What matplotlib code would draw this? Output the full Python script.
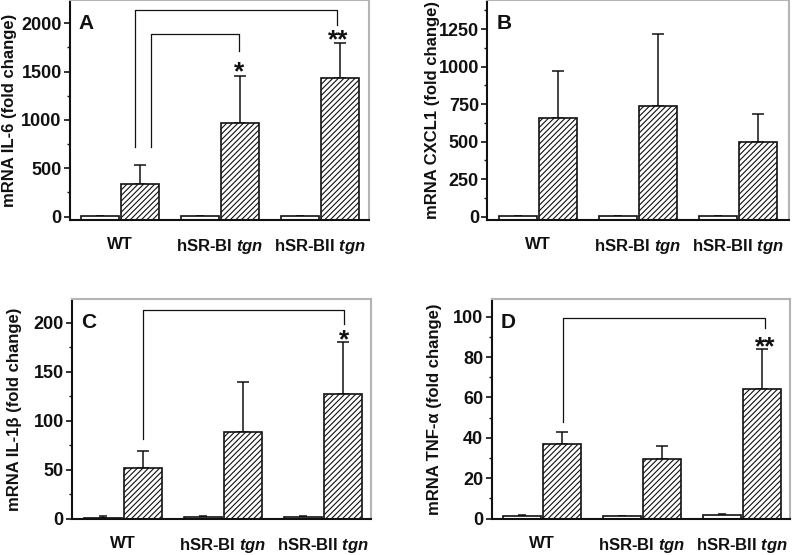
import numpy as np
import matplotlib
matplotlib.use("Agg")
import matplotlib.pyplot as plt
from matplotlib.ticker import MultipleLocator

plt.rcParams['font.family'] = ['Liberation Sans', 'DejaVu Sans']
plt.rcParams['font.weight'] = 'bold'
plt.rcParams['hatch.linewidth'] = 0.8
plt.rcParams['mathtext.fontset'] = 'custom'
plt.rcParams['mathtext.it'] = 'Liberation Sans:italic:bold'
plt.rcParams['mathtext.rm'] = 'Liberation Sans:bold'

groups = ['WT', 'hSR-BI $\\mathit{tgn}$', 'hSR-BII $\\mathit{tgn}$']

# panel A: IL-6
il6_ctrl = [5, 5, 5]
il6_ctrl_err = [0, 0, 0]
il6_trt = [335, 967, 1432]
il6_trt_err = [200, 482, 363]

# panel B: CXCL1
cxcl1_ctrl = [8, 8, 8]
cxcl1_ctrl_err = [0, 0, 0]
cxcl1_trt = [660, 738, 500]
cxcl1_trt_err = [311, 482, 187]

# panel C: IL-1b
il1b_ctrl = [1.3, 1.4, 1.5]
il1b_ctrl_err = [1.7, 1.8, 1.7]
il1b_trt = [52.2, 88.3, 127]
il1b_trt_err = [17.4, 50.9, 53]

# panel D: TNF-a
tnf_ctrl = [1.1, 1.5, 2.0]
tnf_ctrl_err = [0.9, 0, 0.4]
tnf_trt = [37, 29.6, 64.2]
tnf_trt_err = [5.8, 6.6, 19.8]

panels = [
    dict(letter='A', ylabel='mRNA IL-6 (fold change)', ctrl=il6_ctrl, ctrl_err=il6_ctrl_err,
         trt=il6_trt, trt_err=il6_trt_err, ylim=(-35, 2240), major=500, minor=250, top=2000,
         rect=[70, 0, 369, 220], lab_x=10, xlim=(-0.5, 2.49),
         brackets=[(0.15, 725, 2133, 2.17, 1985), (0.31, 725, 1888, 1.19, 1708)],
         stars=[(1.19, 1490, '*'), (2.18, 1820, '**')]),
    dict(letter='B', ylabel='mRNA CXCL1 (fold change)', ctrl=cxcl1_ctrl, ctrl_err=cxcl1_ctrl_err,
         trt=cxcl1_trt, trt_err=cxcl1_trt_err, ylim=(-22, 1445), major=250, minor=125, top=1250,
         rect=[487.3, 0, 789, 220], lab_x=432, xlim=(-0.507, 2.51),
         brackets=[], stars=[]),
    dict(letter='C', ylabel='mRNA IL-1\u03b2 (fold change)', ctrl=il1b_ctrl, ctrl_err=il1b_ctrl_err,
         trt=il1b_trt, trt_err=il1b_trt_err, ylim=(-0.5, 224), major=50, minor=25, top=200,
         rect=[72, 299.3, 371, 519.3], lab_x=15, xlim=(-0.508, 2.48),
         brackets=[(0.205, 81.5, 213.5, 2.215, 199)],
         stars=[(2.215, 182, '*')]),
    dict(letter='D', ylabel='mRNA TNF-\u03b1 (fold change)', ctrl=tnf_ctrl, ctrl_err=tnf_ctrl_err,
         trt=tnf_trt, trt_err=tnf_trt_err, ylim=(-0.3, 108.6), major=20, minor=10, top=100,
         rect=[491.7, 299.3, 790, 519.3], lab_x=435, xlim=(-0.503, 2.48),
         brackets=[(0.207, 47.7, 99.4, 2.23, 94.2)],
         stars=[(2.23, 85, '**')]),
]

W, H = 800, 555
fig = plt.figure(figsize=(W / 100, H / 100), dpi=100)
x = np.arange(len(groups))
bw = 0.38
ink = '#111111'

for p in panels:
    l, t, r, b = p['rect']
    ax = fig.add_axes([l / W, 1 - b / H, (r - l) / W, (b - t) / H])
    base = p['ylim'][0]
    ctrl = np.array(p['ctrl'])
    trt = np.array(p['trt'])
    ax.bar(x - 0.2, ctrl - base, bw, bottom=base, color='white', edgecolor=ink, linewidth=1.2, zorder=2)
    ax.bar(x + 0.2, trt - base, bw, bottom=base, color='white', edgecolor=ink, linewidth=1.2,
           hatch='//////', zorder=2)
    ax.errorbar(x - 0.2, ctrl, yerr=[np.zeros(3), p['ctrl_err']], fmt='none', ecolor=ink,
                elinewidth=1.1, capsize=3, capthick=1.1, zorder=1)
    ax.errorbar(x + 0.2, trt, yerr=[np.zeros(3), p['trt_err']], fmt='none', ecolor=ink,
                elinewidth=1.1, capsize=4.3, capthick=1.1, zorder=1)

    for (x0, y0, ytop, x1, y1) in p['brackets']:
        ax.plot([x0, x0, x1, x1], [y0, ytop, ytop, y1], color=ink, lw=0.9, zorder=3)
    for (sx, sy, s) in p['stars']:
        ax.text(sx, sy, s, ha='center', va='center', fontsize=19, fontweight='bold', color=ink)

    ax.set_xlim(*p['xlim'])
    ax.set_ylim(*p['ylim'])
    ax.set_xticks(x)
    ax.set_xticklabels(groups, fontsize=12, fontweight='bold', color=ink)
    ax.tick_params(axis='x', length=0, pad=12)
    ax.yaxis.set_major_locator(MultipleLocator(p['major']))
    ax.yaxis.set_minor_locator(MultipleLocator(p['minor']))
    ax.set_yticks(np.arange(0, p['top'] + 1, p['major']))
    ax.tick_params(axis='y', which='major', length=4, width=1.2, labelsize=13, pad=2, colors=ink)
    ax.tick_params(axis='y', which='minor', length=2.5, width=1.0, colors=ink)
    for lab in ax.get_yticklabels():
        lab.set_fontweight('bold')

    for side in ['left', 'bottom']:
        ax.spines[side].set_color(ink)
        ax.spines[side].set_linewidth(1.5)
    for side in ['top', 'right']:
        ax.spines[side].set_color('#b4b4b4')
        ax.spines[side].set_linewidth(1.5)

    ax.text(0.03, 0.895, p['letter'], transform=ax.transAxes, ha='left', va='center',
            fontsize=15, fontweight='bold', color=ink)
    fig.text(p['lab_x'] / W, 1 - (t + b) / 2 / H, p['ylabel'], rotation=90, ha='center',
             va='center', fontsize=12, fontweight='bold', color=ink)

fig.savefig('out.png', dpi=100)
